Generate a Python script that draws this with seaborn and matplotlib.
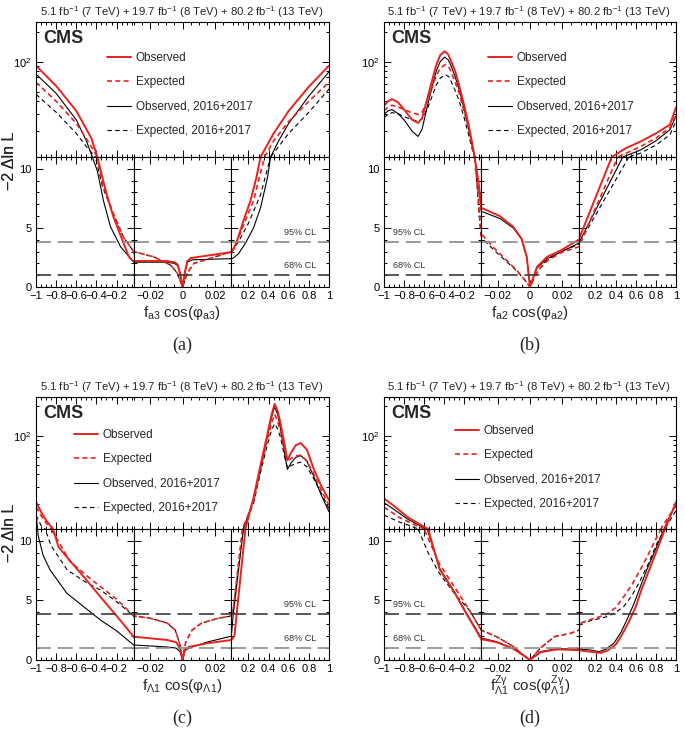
import numpy as np
import pandas as pd
import matplotlib
matplotlib.use("Agg")
import matplotlib.pyplot as plt
import seaborn as sns
from matplotlib.lines import Line2D
from matplotlib.ticker import FixedLocator, MultipleLocator, LogLocator, NullFormatter, FixedFormatter

sns.set_theme(style="ticks")
plt.rcParams['font.family'] = ['Liberation Sans', 'DejaVu Sans']
plt.rcParams['mathtext.fontset'] = 'custom'
plt.rcParams['mathtext.rm'] = 'Liberation Sans'
plt.rcParams['mathtext.it'] = 'Liberation Sans:italic'
plt.rcParams['mathtext.bf'] = 'Liberation Sans:bold'
plt.rcParams['axes.linewidth'] = 0.8

# ---- (a) f_a3 ----
A_OBS_X = [-1, -0.8, -0.6, -0.45, -0.39, -0.35, -0.3, -0.23, -0.13, -0.08, -0.05, -0.03, -0.02, -0.01, -0.005,
           -0.003, -0.0015, 0, 0.0015, 0.003, 0.005, 0.015, 0.03, 0.05, 0.087, 0.15, 0.22, 0.28, 0.32, 0.36,
           0.45, 0.6, 0.8, 1]
A_OBS_Y = [91, 57, 32, 17, 11, 9.6, 7.9, 5.9, 3.7, 2.6, 2.3, 2.2, 2.2, 2.2, 2.1,
           1.9, 1.2, 0, 1.3, 2.2, 2.45, 2.65, 2.95, 3.2, 3.9, 5.6, 7.3, 9.3, 11, 13,
           19, 32, 56, 91]
A_EXP_X = [-1, -0.8, -0.6, -0.45, -0.39, -0.34, -0.23, -0.13, -0.03, -0.0176, -0.0073, -0.0033, 0, 0.003,
           0.007, 0.019, 0.03, 0.06, 0.15, 0.25, 0.36, 0.45, 0.6, 0.8, 1]
A_EXP_Y = [62, 40, 24, 14, 11, 8.7, 6.2, 4.2, 3.0, 2.55, 1.85, 1.2, 0, 1.2,
           2.0, 2.5, 3.0, 3.3, 5.2, 7.3, 11, 16, 25, 40, 62]
A_OBS17_X = [-1, -0.8, -0.6, -0.5, -0.44, -0.39, -0.33, -0.26, -0.16, -0.06, -0.03, -0.01, -0.005, -0.003,
             -0.0015, 0, 0.0015, 0.003, 0.006, 0.03, 0.05, 0.1, 0.17, 0.25, 0.32, 0.39, 0.42, 0.5, 0.6, 0.8, 1]
A_OBS17_Y = [75, 48, 26, 16, 11, 9.8, 7.3, 5.1, 3.4, 2.4, 2.1, 2.1, 2.0, 1.8,
             1.1, 0, 1.2, 2.1, 2.3, 2.4, 2.45, 2.8, 3.7, 5.0, 6.7, 9.3, 11, 16, 24, 45, 79]
A_EXP17_X = [-1, -0.8, -0.6, -0.5, -0.41, -0.34, -0.23, -0.13, -0.03, -0.0176, -0.0073, -0.0033, 0, 0.003,
             0.007, 0.019, 0.03, 0.1, 0.2, 0.32, 0.42, 0.5, 0.6, 0.8, 1]
A_EXP17_Y = [47, 31, 19, 14, 11, 8.5, 6.1, 4.2, 3.0, 2.55, 1.85, 1.2, 0, 1.2,
             2.0, 2.5, 3.0, 3.8, 5.4, 7.8, 11, 14, 19, 31, 53]

# ---- (b) f_a2 ----
B_OBS_X = [-1, -0.96, -0.92, -0.86, -0.8, -0.72, -0.66, -0.62, -0.57, -0.52, -0.48, -0.44, -0.395, -0.36,
           -0.33, -0.29, -0.25, -0.2, -0.16, -0.12, -0.097, -0.06, -0.04, -0.03,
           -0.0186, -0.0104, -0.0052, -0.002, 0, 0.002, 0.0043, 0.0105, 0.019, 0.03,
           0.36, 0.5, 0.645, 0.8, 0.94, 1]
B_OBS_Y = [36, 40, 42, 39, 33, 26, 24.2, 27, 42, 65, 92, 116, 127, 118,
           100, 80, 57, 36, 24, 15, 11, 9, 7.5, 6.7,
           6.0, 5.1, 4.1, 2.55, 0, 0.8, 1.7, 2.55, 3.1, 4.0,
           11, 13.5, 15.7, 19, 23.3, 34.6]
B_EXP_X = [-1, -0.96, -0.92, -0.86, -0.8, -0.72, -0.66, -0.62, -0.57, -0.52, -0.48, -0.44, -0.39, -0.35,
           -0.33, -0.29, -0.25, -0.2, -0.16, -0.12, -0.095, -0.06, -0.04, -0.03,
           -0.0228, -0.0145, -0.0083, -0.0031, 0, 0.003, 0.0064, 0.0105, 0.019, 0.03,
           0.42, 0.645, 0.8, 0.94, 1]
B_EXP_Y = [32, 35, 36.4, 35, 33, 30.5, 29.5, 31, 40, 55, 72, 86, 93, 87,
           78, 62, 48, 31, 22, 14, 11, 7.5, 5.2, 4.5,
           3.39, 2.27, 1.43, 0.59, 0, 0.9, 1.6, 2.2, 2.9, 3.4,
           11, 14, 17, 21.7, 29.5]
B_OBS17_X = [-1, -0.96, -0.92, -0.86, -0.8, -0.72, -0.66, -0.62, -0.57, -0.52, -0.48, -0.44, -0.395, -0.36,
             -0.33, -0.29, -0.25, -0.2, -0.16, -0.12, -0.097, -0.06, -0.04, -0.03,
             -0.0186, -0.0104, -0.0052, -0.002, 0, 0.002, 0.0043, 0.0105, 0.019, 0.03,
             0.47, 0.645, 0.8, 0.94, 1]
B_OBS17_Y = [29.5, 32, 33, 30, 26, 20, 17.7, 21, 35, 56, 80, 100, 111, 104,
             90, 70, 52, 33, 22, 14, 11, 8.8, 7.2, 6.4,
             5.8, 5.0, 4.05, 2.5, 0, 0.8, 1.6, 2.4, 2.95, 3.7,
             11, 12.9, 16, 20.7, 28.4]
B_EXP17_X = [-1, -0.96, -0.92, -0.86, -0.8, -0.72, -0.66, -0.62, -0.57, -0.52, -0.48, -0.44, -0.39, -0.35,
             -0.33, -0.29, -0.25, -0.2, -0.16, -0.12, -0.093, -0.06, -0.04, -0.03,
             -0.0228, -0.0145, -0.0083, -0.0031, 0, 0.003, 0.0064, 0.0105, 0.019, 0.03,
             0.53, 0.645, 0.8, 0.94, 1]
B_EXP17_Y = [27.3, 29.5, 30.7, 30, 28, 26, 25.2, 26.5, 33, 45, 58, 68, 74, 70,
             63, 51, 40, 27, 19, 13, 11, 7, 4.9, 4.2,
             3.2, 2.15, 1.38, 0.57, 0, 0.9, 1.65, 2.3, 3.0, 3.6,
             11, 12, 14.5, 18.4, 25.2]

# ---- (c) f_L1 ----
C_OBS_X = [-1, -0.95, -0.9, -0.83, -0.777, -0.65, -0.527, -0.36, -0.193, -0.03, -0.0094, -0.004, -0.0015, 0,
           0.0015, 0.004, 0.015, 0.03, 0.06, 0.17, 0.25, 0.32, 0.38, 0.43, 0.46, 0.49, 0.52, 0.56, 0.587,
           0.62, 0.67, 0.72, 0.78, 0.85, 0.92, 1]
C_OBS_Y = [20.9, 16.5, 13.5, 11, 9.5, 8.2, 7.0, 5.3, 3.64, 1.96, 1.68, 1.5, 1.0, 0,
           0.9, 1.1, 1.4, 1.68, 2.0, 11, 23, 50, 95, 165, 212, 180, 132, 80, 56,
           66, 80, 84, 72, 45, 31, 21.7]
C_EXP_X = [-1, -0.93, -0.85, -0.66, -0.5, -0.36, -0.19, -0.03, -0.0196, -0.0094, -0.0044, -0.0018, 0, 0.002,
           0.0058, 0.0117, 0.0219, 0.03, 0.05, 0.14, 0.25, 0.32, 0.38, 0.43, 0.46, 0.49, 0.52, 0.56, 0.587,
           0.62, 0.67, 0.72, 0.78, 0.85, 0.92, 1]
C_EXP_Y = [18.5, 14, 11, 8.26, 7.1, 6.16, 5.04, 3.7, 3.5, 3.1, 2.5, 1.4, 0, 1.5,
           2.5, 3.1, 3.5, 3.7, 4.3, 11, 21, 45, 85, 135, 166, 140, 110, 70, 55,
           58, 62, 63, 55, 40, 28, 19.3]
C_OBS17_X = [-1, -0.985, -0.977, -0.93, -0.86, -0.693, -0.5, -0.36, -0.2, -0.03, -0.01, -0.004, -0.0015, 0,
             0.0015, 0.004, 0.015, 0.03, 0.05, 0.15, 0.25, 0.32, 0.38, 0.43, 0.46, 0.49, 0.52, 0.56, 0.587,
             0.62, 0.67, 0.72, 0.78, 0.85, 0.92, 1]
C_OBS17_Y = [16.5, 11, 10.4, 8.8, 7.56, 5.6, 4.3, 3.36, 2.45, 1.26, 1.1, 1.0, 0.7, 0,
             0.8, 1.0, 1.5, 2.0, 3.9, 11, 22, 47, 90, 155, 198, 165, 115, 65, 45,
             52, 60, 62.5, 55, 38, 25, 16.5]
C_EXP17_X = [-1, -0.95, -0.91, -0.85, -0.69, -0.5, -0.36, -0.2, -0.03,
             -0.0196, -0.0094, -0.0044, -0.0018, 0, 0.002, 0.0058, 0.0117, 0.0219, 0.03,
             0.05, 0.145, 0.25, 0.32, 0.38, 0.43, 0.46, 0.49, 0.52, 0.56, 0.587, 0.62, 0.67, 0.72, 0.78,
             0.85, 0.92, 1]
C_EXP17_Y = [15.2, 12, 11, 9.6, 7.56, 6.5, 5.88, 4.9, 3.7,
             3.5, 3.1, 2.5, 1.4, 0, 1.5, 2.5, 3.1, 3.5, 3.7,
             4.3, 11, 20, 42, 75, 115, 133, 118, 95, 60, 47, 49, 52, 53.4, 48,
             36, 26, 17.8]

# ---- (d) f_L1^Zgamma ----
D_OBS_X = [-1, -0.9, -0.77, -0.65, -0.56, -0.445, -0.3, -0.18, -0.03, -0.0207, -0.0104, -0.0042, 0, 0.0064,
           0.0168, 0.025, 0.03, 0.1, 0.18, 0.25, 0.32, 0.4, 0.46, 0.53, 0.6, 0.66, 0.73, 0.8, 0.89, 0.95, 1]
D_OBS_Y = [22.6, 19, 14.7, 12.4, 11, 7.6, 5.7, 3.9, 1.75, 1.5, 0.95, 0.4, 0, 0.65,
           0.9, 0.85, 0.82, 0.75, 0.65, 0.6, 0.8, 1.3, 2.1, 3.2, 4.5, 6.0, 7.5, 9.0, 11, 15.5, 20.9]
D_EXP_X = [-1, -0.85, -0.72, -0.6, -0.45, -0.28, -0.15, -0.03, -0.0207, -0.0104, -0.004, 0, 0.0064, 0.015,
           0.025, 0.03, 0.047, 0.15, 0.3, 0.4, 0.478, 0.56, 0.645, 0.72, 0.79, 0.85, 0.93, 1]
D_EXP_Y = [18.5, 14.5, 12.5, 11, 8.1, 5.9, 4.2, 2.5, 1.96, 1.15, 0.4, 0, 1.0, 1.96,
           2.24, 2.5, 3.1, 3.4, 3.8, 4.4, 5.3, 6.3, 7.6, 8.8, 10, 11, 15, 19]
D_OBS17_X = [-1, -0.9, -0.77, -0.65, -0.57, -0.445, -0.3, -0.18, -0.03, -0.0207, -0.0104, -0.0042, 0, 0.0064,
             0.0168, 0.025, 0.03, 0.1, 0.147, 0.23, 0.3, 0.38, 0.45, 0.51, 0.58, 0.645, 0.71, 0.78, 0.88,
             0.94, 1]
D_OBS17_Y = [20.5, 17.5, 14, 12, 11, 7.7, 5.75, 3.95, 1.85, 1.54, 0.98, 0.42, 0, 0.7,
             0.95, 0.92, 0.9, 0.88, 0.84, 0.7, 0.9, 1.4, 2.3, 3.36, 4.7, 6.16, 7.6, 8.97, 11,
             15, 19.5]
D_EXP17_X = [-1, -0.85, -0.75, -0.66, -0.56, -0.45, -0.3, -0.15, -0.03,
             -0.0207, -0.0104, -0.004, 0, 0.0064, 0.015, 0.025, 0.03,
             0.047, 0.15, 0.312, 0.4, 0.478, 0.56, 0.645, 0.73, 0.81, 0.89, 0.95, 1]
D_EXP17_Y = [15.3, 13, 12, 11, 9.0, 7.3, 5.6, 4.2, 2.5,
             1.96, 1.15, 0.4, 0, 1.0, 1.96, 2.24, 2.5,
             3.08, 3.3, 3.64, 4.0, 4.48, 5.4, 6.7, 8.2, 9.8, 11, 14, 17]

LABELS = ["Observed", "Expected", "Observed, 2016+2017", "Expected, 2016+2017"]
ORDER = ["Expected, 2016+2017", "Observed, 2016+2017", "Expected", "Observed"]
RED = "#e8231e"
PAL = {"Observed": RED, "Expected": RED, "Observed, 2016+2017": "black", "Expected, 2016+2017": "black"}
DASH = {"Observed": "", "Expected": (3, 2), "Observed, 2016+2017": "", "Expected, 2016+2017": (4, 3)}
SIZES = {"Observed": 1.4, "Expected": 1.2, "Observed, 2016+2017": 0.8, "Expected, 2016+2017": 0.8}

SEGMENTS = [(-1, -0.03), (-0.03, 0.03), (0.03, 1)]
XMAJ = [[-1, -0.8, -0.6, -0.4, -0.2], [-0.02, 0, 0.02], [0.2, 0.4, 0.6, 0.8, 1]]
XLAB = [["\u22121", "\u22120.8", "\u22120.6", "\u22120.4", "\u22120.2"], ["\u22120.02", "0", "0.02"],
        ["0.2", "0.4", "0.6", "0.8", "1"]]
XMIN = [0.05, 0.005, 0.05]

TITLE = r"5.1 fb$^{-1}$ (7 TeV) + 19.7 fb$^{-1}$ (8 TeV) + 80.2 fb$^{-1}$ (13 TeV)"
GRAY = "#8a8a8a"
DARK = "#3c3c3c"

W, H = 685, 730
fig = plt.figure(figsize=(W / 100, H / 100), dpi=100)


def make_frame(obs, exp, obs17, exp17):
    parts = []
    for name, (xs, ys) in zip(LABELS, [obs, exp, obs17, exp17]):
        parts.append(pd.DataFrame({"x": xs, "y": ys, "series": name}))
    return pd.concat(parts, ignore_index=True)


def draw_lines(d, ax):
    sns.lineplot(data=d, x="x", y="y", hue="series", style="series", size="series",
                 hue_order=ORDER, style_order=ORDER, size_order=ORDER,
                 palette=PAL, dashes=DASH, sizes=SIZES, estimator=None, sort=False,
                 errorbar=None, legend=False, ax=ax)
    ax.set_xlabel("")
    ax.set_ylabel("")


def draw_panel(df, box, xlabel, caption, cl_seg, cl_colors, leg_xy):
    x0, x1, top, brk, bot = box
    w = (x1 - x0) / 3
    for i, (lo, hi) in enumerate(SEGMENTS):
        left = (x0 + i * w) / W
        axu = fig.add_axes([left, 1 - brk / H, w / W, (brk - top) / H])
        axl = fig.add_axes([left, 1 - bot / H, w / W, (bot - brk) / H])
        axu.set_yscale("log")
        draw_lines(df.assign(y=df["y"].clip(lower=1.0)), axu)
        draw_lines(df, axl)
        for ax in (axu, axl):
            ax.set_xlim(lo, hi)
            ax.xaxis.set_major_locator(FixedLocator(XMAJ[i]))
            ax.xaxis.set_minor_locator(MultipleLocator(XMIN[i]))
            ax.tick_params(which="both", direction="in", top=True, bottom=True, left=True, right=True,
                           width=0.7, labelsize=8, pad=3, colors="black")
            ax.tick_params(which="major", length=5)
            ax.tick_params(which="minor", length=2.5)
            for s in ax.spines.values():
                s.set_color("black")
                s.set_linewidth(0.8)
        axu.set_ylim(11, 250)
        axu.yaxis.set_major_locator(FixedLocator([100]))
        axu.yaxis.set_minor_locator(LogLocator(base=10, subs=np.arange(2, 10)))
        axu.yaxis.set_minor_formatter(NullFormatter())
        axu.set_xticklabels([])
        axl.set_ylim(0, 11)
        axl.yaxis.set_major_locator(FixedLocator([0, 5, 10]))
        axl.yaxis.set_minor_locator(MultipleLocator(1))
        axl.set_xticks(XMAJ[i])
        axl.set_xticklabels(XLAB[i])
        if i == 0:
            axu.yaxis.set_major_formatter(FixedFormatter([r"10$^{2}$"]))
            axl.set_yticklabels(["0", "5", "10"])
        else:
            axu.set_yticklabels([])
            axl.set_yticklabels([])
            axu.spines["left"].set_visible(False)
            axu.tick_params(which="both", left=False)
        if i < 2:
            axu.spines["right"].set_visible(False)
            axu.tick_params(which="both", right=False)
        axl.axhline(3.84, color=cl_colors[0], lw=1.2, dashes=(9, 4))
        axl.axhline(1.0, color=cl_colors[1], lw=1.2, dashes=(9, 4))
        if i == cl_seg:
            if cl_seg == 2:
                axl.text(0.87, 4.25, "95% CL", ha="right", va="bottom", fontsize=6.5, color="#333333")
                axl.text(0.87, 1.4, "68% CL", ha="right", va="bottom", fontsize=6.5, color="#333333")
            else:
                axl.text(-0.91, 4.25, "95% CL", ha="left", va="bottom", fontsize=6.5, color="#333333")
                axl.text(-0.91, 1.4, "68% CL", ha="left", va="bottom", fontsize=6.5, color="#333333")

    cx = (x0 + x1) / 2
    fig.text((x1 - 6) / W, 1 - (top - 10) / H, TITLE, ha="right", va="center", fontsize=8.2)
    fig.text((x0 + 7) / W, 1 - (top + 8) / H, "CMS", ha="left", va="top", fontsize=13, fontweight="bold")
    fig.text(10 / W, 1 - (brk + 4) / H, "\u22122 \u0394ln L", rotation=90, ha="center", va="center",
             fontsize=11.5)
    fig.text(cx / W, 1 - (bot + 26) / H, xlabel, ha="center", va="center", fontsize=11)
    fig.text(cx / W, 1 - (bot + 58) / H, caption, ha="center", va="center", fontsize=13,
             family=["Liberation Serif", "DejaVu Serif"])

    handles = [
        Line2D([], [], color=RED, lw=SIZES["Observed"]),
        Line2D([], [], color=RED, lw=SIZES["Expected"], linestyle=(0, DASH["Expected"])),
        Line2D([], [], color="black", lw=SIZES["Observed, 2016+2017"]),
        Line2D([], [], color="black", lw=SIZES["Expected, 2016+2017"], linestyle=(0, DASH["Expected, 2016+2017"])),
    ]
    fig.legend(handles, LABELS, loc="upper left", bbox_to_anchor=(leg_xy[0] / W, 1 - leg_xy[1] / H),
               frameon=False, fontsize=8.5, handlelength=2.0, handletextpad=0.45, labelspacing=1.05,
               borderpad=0, borderaxespad=0)


df_a = make_frame((A_OBS_X, A_OBS_Y), (A_EXP_X, A_EXP_Y), (A_OBS17_X, A_OBS17_Y), (A_EXP17_X, A_EXP17_Y))
df_b = make_frame((B_OBS_X, B_OBS_Y), (B_EXP_X, B_EXP_Y), (B_OBS17_X, B_OBS17_Y), (B_EXP17_X, B_EXP17_Y))
df_c = make_frame((C_OBS_X, C_OBS_Y), (C_EXP_X, C_EXP_Y), (C_OBS17_X, C_OBS17_Y), (C_EXP17_X, C_EXP17_Y))
df_d = make_frame((D_OBS_X, D_OBS_Y), (D_EXP_X, D_EXP_Y), (D_OBS17_X, D_OBS17_Y), (D_EXP17_X, D_EXP17_Y))

draw_panel(df_a, (36, 329, 22, 157, 287), r"f$_{\mathregular{a3}}$ cos(φ$_{\mathregular{a3}}$)", "(a)",
           2, (GRAY, DARK), (107, 52))
draw_panel(df_b, (384, 676, 22, 157, 287), r"f$_{\mathregular{a2}}$ cos(φ$_{\mathregular{a2}}$)", "(b)",
           0, (GRAY, DARK), (488, 52))
draw_panel(df_c, (36, 329, 397, 529, 660), r"f$_{\mathregular{\Lambda1}}$ cos(φ$_{\mathregular{\Lambda1}}$)",
           "(c)", 2, (DARK, GRAY), (74, 429))
draw_panel(df_d, (384, 676, 397, 529, 660),
           r"f$^{\mathregular{Z\gamma}}_{\mathregular{\Lambda1}}$ cos(φ$^{\mathregular{Z\gamma}}_{\mathregular{\Lambda1}}$)",
           "(d)", 0, (DARK, GRAY), (455, 425))

fig.savefig("out.png", dpi=100)
